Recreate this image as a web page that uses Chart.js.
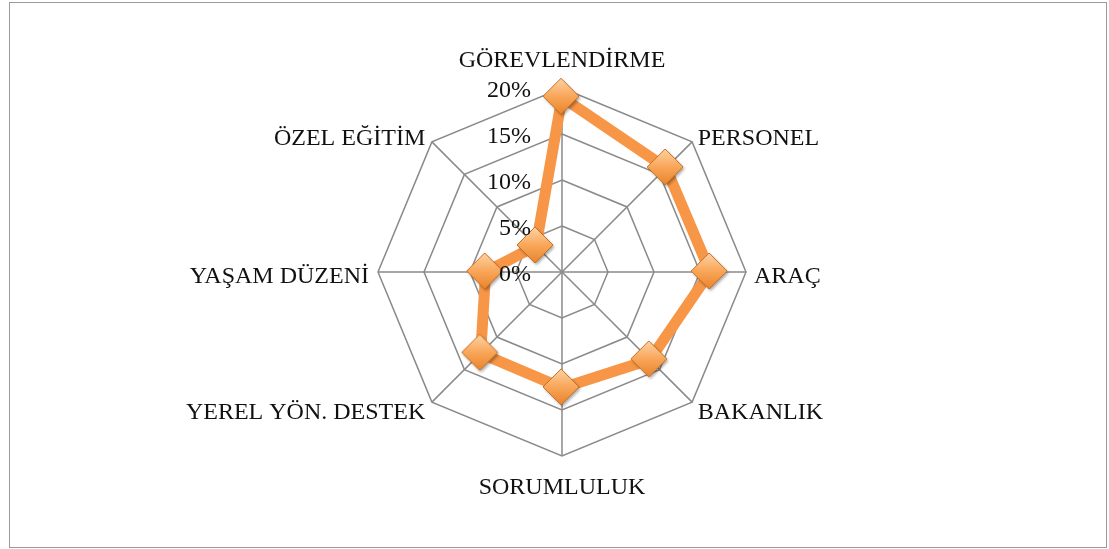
<!DOCTYPE html>
<html>
<head>
<meta charset="utf-8">
<script src="https://cdn.jsdelivr.net/npm/chart.js@4.4.1/dist/chart.umd.min.js"></script>
<style>
  html, body { margin:0; padding:0; background:#fff; }
  #wrap { position:relative; width:1109px; height:549px; }
  #frame { position:absolute; left:9px; top:2px; width:1096px; height:544px; border:1px solid #9a9a9a; }
  canvas { position:absolute; left:0; top:0; }
</style>
</head>
<body>
<div id="wrap">
  <div id="frame"></div>
  <canvas id="chart" width="1109" height="549"></canvas>
</div>
<script>
// Kategoriler ve değerler (%)
const kategoriler = ['GÖREVLENDİRME','PERSONEL','ARAÇ','BAKANLIK','SORUMLULUK','YEREL YÖN. DESTEK','YAŞAM DÜZENİ','ÖZEL EĞİTİM'];
const degerler = [19.0, 16.0, 16.1, 13.5, 12.6, 12.5, 8.3, 4.0];
const tickDegerleri = [0, 5, 10, 15, 20];
const tickEtiketleri = ['0%','5%','10%','15%','20%'];

const FONT = '"Liberation Serif", "DejaVu Serif", serif';

// Baklava dilimi işaretçi (gradyanlı)
function diamond() {
  const c = document.createElement('canvas');
  c.width = 46; c.height = 46;
  const g = c.getContext('2d');
  const cx = 22, cy = 22, r = 18;
  g.shadowColor = 'rgba(0,0,0,0.35)';
  g.shadowBlur = 3; g.shadowOffsetX = 1.5; g.shadowOffsetY = 2;
  g.beginPath();
  g.moveTo(cx, cy - r); g.lineTo(cx + r, cy); g.lineTo(cx, cy + r); g.lineTo(cx - r, cy); g.closePath();
  const grad = g.createLinearGradient(0, cy - r, 0, cy + r);
  grad.addColorStop(0, '#fdd3a4');
  grad.addColorStop(0.5, '#f9a75a');
  grad.addColorStop(1, '#e9842c');
  g.fillStyle = grad; g.fill();
  g.shadowColor = 'transparent';
  g.lineWidth = 1; g.strokeStyle = '#c96f22'; g.stroke();
  return c;
}

// Eksen etiketleri ve yüzde değerleri
const etiketPlugin = {
  id:'etiketler',
  afterDraw(chart) {
    const s = chart.scales.r, ctx = chart.ctx;
    ctx.save();
    ctx.fillStyle = '#111';
    ctx.font = '24px ' + FONT;
    kategoriler.forEach((lab, i) => {
      const p = s.getPointPosition(i, s.drawingArea + 8);
      const a = i * 2 * Math.PI / kategoriler.length;
      const sx = Math.sin(a), cy = -Math.cos(a);
      let x = p.x, y = p.y;
      if (Math.abs(sx) < 0.01) { ctx.textAlign = 'center'; y += cy < 0 ? -19 : 24; }
      else { ctx.textAlign = sx > 0 ? 'left' : 'right'; x += sx > 0 ? 0 : -1; y += Math.abs(cy) < 0.01 ? 5 : (cy < 0 ? 2 : 5); }
      ctx.textBaseline = 'middle';
      ctx.fillText(lab, x, y);
    });
    ctx.textAlign = 'right';
    ctx.textBaseline = 'middle';
    tickDegerleri.forEach((v, i) => {
      const d = s.getDistanceFromCenterForValue(v);
      ctx.fillText(tickEtiketleri[i], s.xCenter - 31, s.yCenter - d + 3);
    });
    ctx.restore();
  }
};

new Chart(document.getElementById('chart'), {
  type:'radar',
  data:{
    labels: kategoriler,
    datasets:[{
      data: degerler,
      borderColor:'#f79646',
      borderWidth:11,
      borderJoinStyle:'round',
      fill:false,
      pointStyle: diamond(),
      pointRadius:18
    }]
  },
  options:{
    responsive:false,
    animation:false,
    layout:{ padding:{ left:378, right:363, top:88, bottom:93 } },
    plugins:{ legend:{ display:false }, tooltip:{ enabled:false } },
    scales:{
      r:{
        min:0, max:20,
        ticks:{ display:false, stepSize:5 },
        pointLabels:{ display:false },
        grid:{ color:'#8a8a8a', lineWidth:1.5 },
        angleLines:{ color:'#8a8a8a', lineWidth:1.5 }
      }
    }
  },
  plugins:[etiketPlugin]
});
</script>
</body>
</html>
